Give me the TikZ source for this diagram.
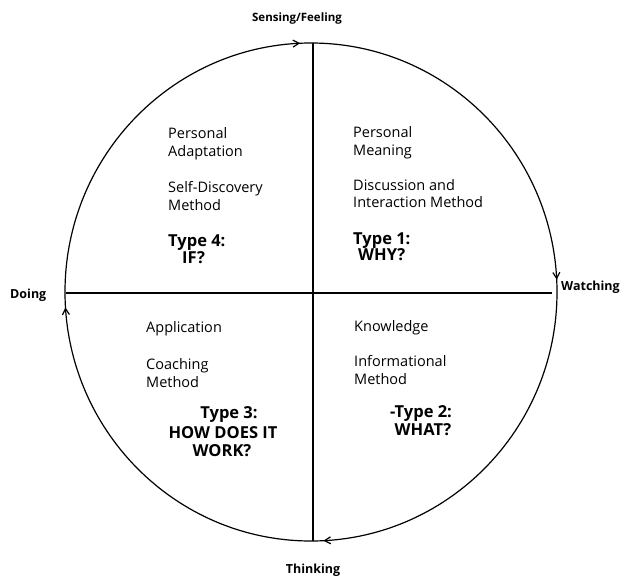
\documentclass[tikz,border=0pt]{standalone}
\usepackage{fontspec}
\setmainfont{Open Sans}
\usetikzlibrary{arrows.meta,decorations.markings}
\begin{document}
\begin{tikzpicture}[x=1pt,y=-1pt,
  >={Straight Barb[length=6pt,width=7pt]},
  lbl/.style={font=\bfseries\fontsize{12.5}{15}\selectfont, inner sep=0pt, anchor=base},
  txt/.style={font=\fontsize{14.5}{17}\selectfont, anchor=base west, inner sep=0pt},
  typ/.style={font=\bfseries\fontsize{16.5}{17}\selectfont, anchor=base, inner sep=0pt},
  ln/.style={line width=1.2pt, black}]
\useasboundingbox (0,0) rectangle (628,578);
\coordinate (c) at (311,292);
\coordinate (top) at (313,43);
\coordinate (bot) at (313,541);
\coordinate (lft) at (66,293);
\coordinate (rgt) at (552,293);
\draw[ln, postaction={decorate}, decoration={markings,
   mark=at position 0.243 with {\arrow{>}},
   mark=at position 0.492 with {\arrow{>}},
   mark=at position 0.742 with {\arrow{>}},
   mark=at position 0.99 with {\arrow{>}}}]
   (c) ++(180:246 and 249) arc[start angle=180, end angle=540, x radius=246, y radius=249];
\draw[ln] (top) -- (bot);
\draw[ln] (lft) -- (rgt);
\node[lbl, font=\bfseries\fontsize{11.5}{15}\selectfont] (sf) at (297,22) {Sensing/Feeling};
\node[lbl, anchor=base west] (do) at (10,298) {Doing};
\node[lbl, anchor=base west] (wa) at (561,290) {Watching};
\node[lbl] (th) at (313,573) {Thinking};
% Q4
\node[txt] (q4a) at (168,138) {Personal};
\node[txt] (q4b) at (168,156) {Adaptation};
\node[txt] (q4c) at (168,192) {Self-Discovery};
\node[txt] (q4d) at (168,210) {Method};
\node[typ, anchor=base west] (q4e) at (168,246) {Type 4:};
\node[typ, anchor=base west] (q4f) at (182,263) {IF?};
% Q1
\node[txt] (q1a) at (353,137) {Personal};
\node[txt] (q1b) at (353,155) {Meaning};
\node[txt] (q1c) at (353,190) {Discussion and};
\node[txt] (q1d) at (353,207) {Interaction Method};
\node[typ, anchor=base west] (q1e) at (353,244) {Type 1:};
\node[typ, anchor=base west] (q1f) at (358,260) {WHY?};
% Q3
\node[txt] (q3a) at (146,332) {Application};
\node[txt] (q3b) at (146,369) {Coaching};
\node[txt] (q3c) at (146,387) {Method};
\node[typ] (q3d) at (229,418) {Type 3:};
\node[typ] (q3e) at (223,438) {HOW DOES IT};
\node[typ] (q3f) at (222,456) {WORK?};
% Q2
\node[txt] (q2a) at (354,331) {Knowledge};
\node[txt] (q2b) at (354,366) {Informational};
\node[txt] (q2c) at (354,384) {Method};
\node[typ] (q2d) at (421,417) {-Type 2:};
\node[typ] (q2e) at (423,435) {WHAT?};
\end{tikzpicture}
\end{document}
